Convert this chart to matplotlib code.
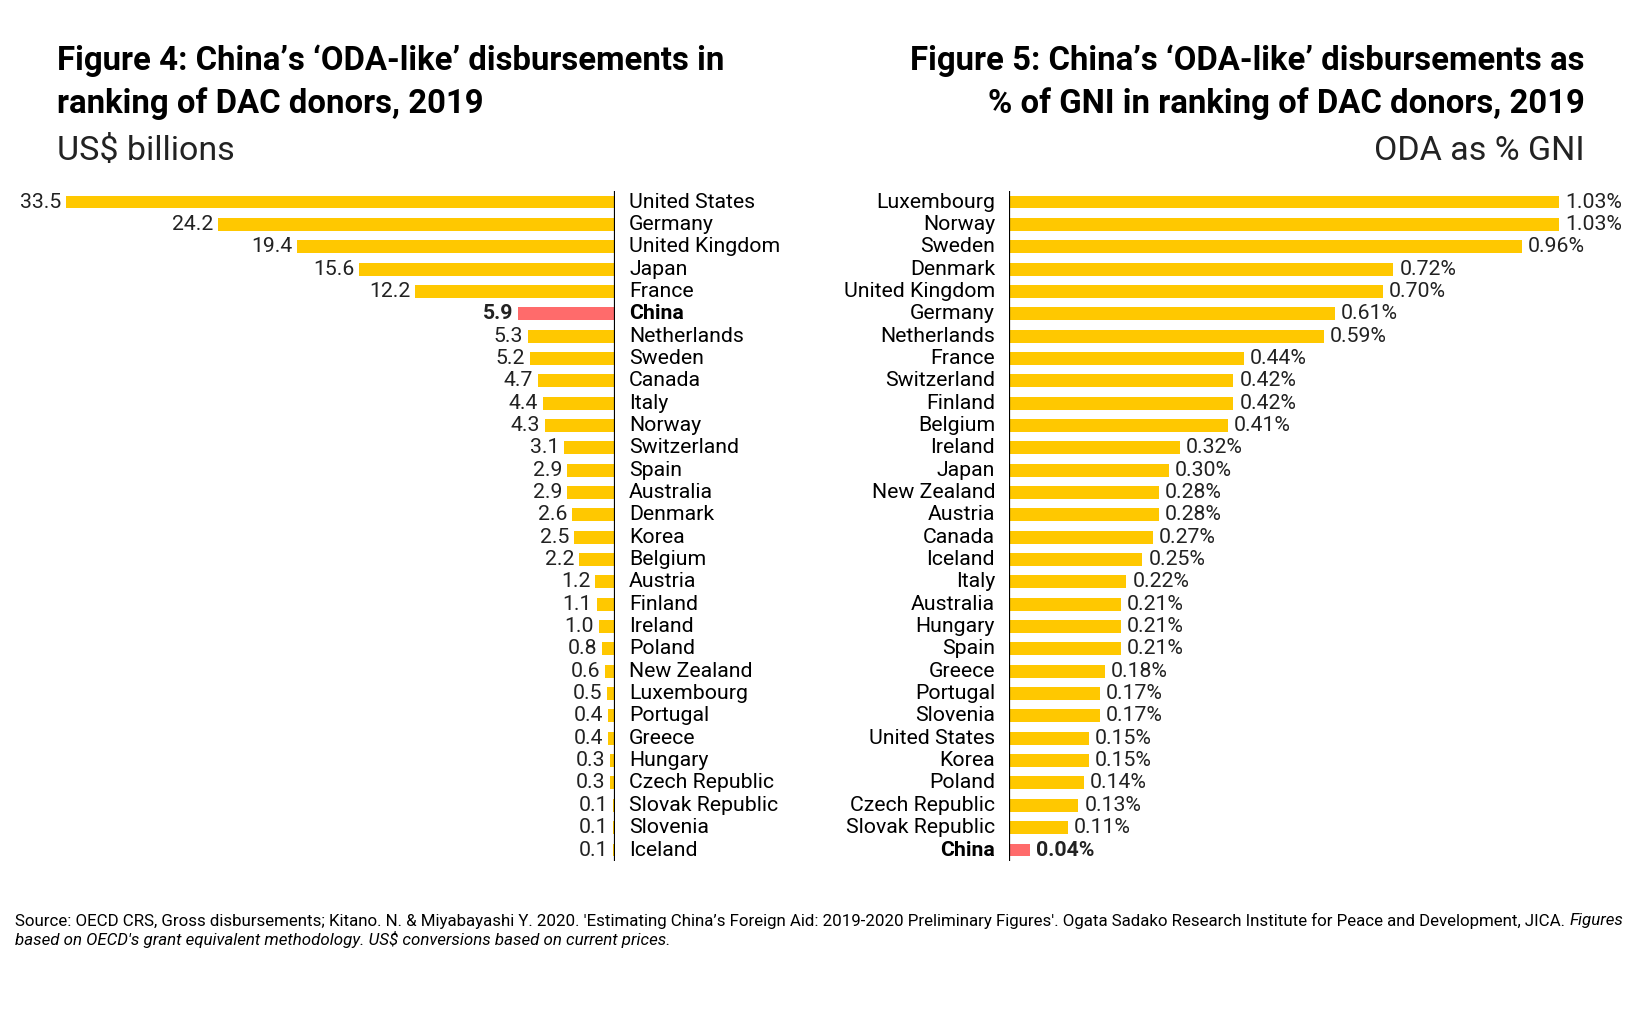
import matplotlib
matplotlib.use("Agg")
import matplotlib.pyplot as plt

plt.rcParams['font.family'] = ['Roboto', 'DejaVu Sans']

# Figure 4: US$ billions
left_countries = ["United States", "Germany", "United Kingdom", "Japan", "France", "China",
                  "Netherlands", "Sweden", "Canada", "Italy", "Norway", "Switzerland", "Spain",
                  "Australia", "Denmark", "Korea", "Belgium", "Austria", "Finland", "Ireland",
                  "Poland", "New Zealand", "Luxembourg", "Portugal", "Greece", "Hungary",
                  "Czech Republic", "Slovak Republic", "Slovenia", "Iceland"]
left_values = [33.5, 24.2, 19.4, 15.6, 12.2, 5.9, 5.3, 5.2, 4.7, 4.4, 4.3, 3.1, 2.9, 2.9,
               2.6, 2.5, 2.2, 1.2, 1.1, 1.0, 0.8, 0.6, 0.5, 0.4, 0.4, 0.3, 0.3, 0.1, 0.1, 0.1]

# Figure 5: ODA as % GNI
right_countries = ["Luxembourg", "Norway", "Sweden", "Denmark", "United Kingdom", "Germany",
                   "Netherlands", "France", "Switzerland", "Finland", "Belgium", "Ireland",
                   "Japan", "New Zealand", "Austria", "Canada", "Iceland", "Italy", "Australia",
                   "Hungary", "Spain", "Greece", "Portugal", "Slovenia", "United States",
                   "Korea", "Poland", "Czech Republic", "Slovak Republic", "China"]
right_values = [1.03, 1.03, 0.96, 0.72, 0.70, 0.61, 0.59, 0.44, 0.42, 0.42, 0.41, 0.32, 0.30,
                0.28, 0.28, 0.27, 0.25, 0.22, 0.21, 0.21, 0.21, 0.18, 0.17, 0.17, 0.15, 0.15,
                0.14, 0.13, 0.11, 0.04]

YELLOW = "#FFC800"
RED = "#FF6B6B"
W, H = 1639, 1033
fig = plt.figure(figsize=(W / 100, H / 100), dpi=100)

def fx(px):
    return px / W

def fy(py):
    return 1 - py / H

row0, row_n = 202, 850
step = (row_n - row0) / 29
ax_bottom = fy(row_n + step / 2)
ax_height = (row_n - row0 + step) / H

label_fs = 15.3

# ---- left chart
ax1 = fig.add_axes([fx(66), ax_bottom, fx(615 - 66), ax_height])
colors = [RED if c == "China" else YELLOW for c in left_countries]
ys = range(len(left_countries))
ax1.barh(ys, left_values, height=0.58, color=colors)
ax1.set_xlim(33.5, 0)
ax1.set_ylim(len(left_countries) - 0.5, -0.5)
ax1.axis("off")
ax1.axvline(0, color="black", lw=1.6)
for i, (c, v) in enumerate(zip(left_countries, left_values)):
    wt = "bold" if c == "China" else "normal"
    ax1.annotate(f"{v:.1f}", (v, i), xytext=(-5, 0), textcoords="offset pixels",
                 ha="right", va="center", fontsize=label_fs, fontweight=wt, color="#222222")
    ax1.annotate(c, (0, i), xytext=(14, 0), textcoords="offset pixels",
                 ha="left", va="center", fontsize=label_fs, fontweight=wt, color="black")

# ---- right chart
ax2 = fig.add_axes([fx(1009), ax_bottom, fx(1559 - 1009), ax_height])
colors = [RED if c == "China" else YELLOW for c in right_countries]
ax2.barh(range(len(right_countries)), right_values, height=0.58, color=colors)
ax2.set_xlim(0, 1.03)
ax2.set_ylim(len(right_countries) - 0.5, -0.5)
ax2.axis("off")
ax2.axvline(0, color="black", lw=1.6)
for i, (c, v) in enumerate(zip(right_countries, right_values)):
    wt = "bold" if c == "China" else "normal"
    ax2.annotate(f"{v:.2f}%", (v, i), xytext=(6, 0), textcoords="offset pixels",
                 ha="left", va="center", fontsize=label_fs, fontweight=wt, color="#222222")
    ax2.annotate(c, (0, i), xytext=(-14, 0), textcoords="offset pixels",
                 ha="right", va="center", fontsize=label_fs, fontweight=wt, color="black")

# ---- titles
fig.text(fx(57), fy(82), "Figure 4: China\u2019s \u2018ODA-like\u2019 disbursements in\nranking of DAC donors, 2019",
         ha="left", va="center", fontsize=23.7, fontweight="bold", linespacing=1.39)
fig.text(fx(57), fy(151), "US$ billions", ha="left", va="center", fontsize=24.5, color="#222222")
fig.text(fx(1585), fy(82), "Figure 5: China\u2019s \u2018ODA-like\u2019 disbursements as\n% of GNI in ranking of DAC donors, 2019",
         ha="right", va="center", multialignment="right", fontsize=23.7, fontweight="bold", linespacing=1.39)
fig.text(fx(1585), fy(151), "ODA as % GNI", ha="right", va="center", fontsize=24.5, color="#222222")

# ---- footnote
src1 = ("Source: OECD CRS, Gross disbursements; Kitano. N. & Miyabayashi Y. 2020. 'Estimating China\u2019s "
        "Foreign Aid: 2019-2020 Preliminary Figures'. Ogata Sadako Research Institute for Peace and "
        "Development, JICA. ")
t1 = fig.text(fx(15), fy(921), src1, ha="left", va="center", fontsize=12.2)
fig.canvas.draw()
bb = t1.get_window_extent(fig.canvas.get_renderer())
fig.text(bb.x1 / W, fy(921), "Figures", ha="left", va="center", fontsize=12.2, style="italic")
fig.text(fx(15), fy(939), "based on OECD's grant equivalent methodology. US$ conversions based on current prices.",
         ha="left", va="center", fontsize=12.2, style="italic")

fig.savefig("out.png", dpi=100, facecolor="white")
